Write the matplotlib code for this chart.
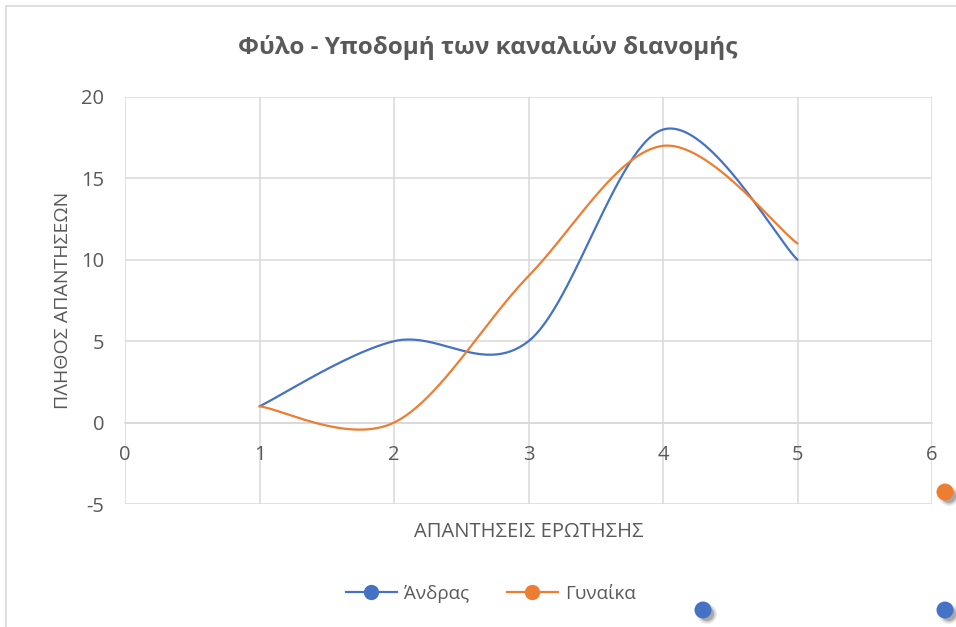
import numpy as np
import matplotlib.pyplot as plt
from matplotlib.lines import Line2D
from matplotlib.patches import Circle

plt.rcParams['font.family'] = ['Open Sans', 'DejaVu Sans']
plt.rcParams['axes.unicode_minus'] = False

answers = [1, 2, 3, 4, 5]
men = [1, 5, 5, 18, 10]
women = [1, 0, 9, 17, 11]
series = [('Άνδρας', men, '#4472C4'), ('Γυναίκα', women, '#ED7D31')]

title = 'Φύλο - Υποδομή των καναλιών διανομής'
xlabel = 'ΑΠΑΝΤΗΣΕΙΣ ΕΡΩΤΗΣΗΣ'
ylabel = 'ΠΛΗΘΟΣ ΑΠΑΝΤΗΣΕΩΝ'
text_gray = '#595959'
grid_gray = '#D9D9D9'


# smoothed line through the points (Catmull-Rom as cubic Bezier pieces)
def smooth(xs, ys, steps=60):
    pts = np.column_stack([xs, ys]).astype(float)
    n = len(pts)
    out = []
    t = np.linspace(0, 1, steps)[:, None]
    for i in range(n - 1):
        p0 = pts[max(i - 1, 0)]
        p1 = pts[i]
        p2 = pts[i + 1]
        p3 = pts[min(i + 2, n - 1)]
        c1 = p1 + (p2 - p0) / 6
        c2 = p2 - (p3 - p1) / 6
        seg = ((1 - t) ** 3 * p1 + 3 * (1 - t) ** 2 * t * c1
               + 3 * (1 - t) * t ** 2 * c2 + t ** 3 * p2)
        out.append(seg if i == 0 else seg[1:])
    out = np.vstack(out)
    return out[:, 0], out[:, 1]


fig = plt.figure(figsize=(9.56, 6.27), dpi=100)
ax = fig.add_axes([125 / 956, 1 - 504 / 627, 807 / 956, 407 / 627])

for name, vals, col in series:
    sx, sy = smooth(answers, vals)
    ax.plot(sx, sy, color=col, lw=1.6, solid_capstyle='round', zorder=3)

ax.set_xlim(0, 6)
ax.set_ylim(-5, 20)
ax.set_xticks(range(0, 7))
ax.set_yticks(range(-5, 21, 5))
ax.grid(True, color=grid_gray, lw=1.1)
ax.set_axisbelow(True)
for side in ['top', 'right', 'left']:
    ax.spines[side].set_visible(False)
ax.spines['bottom'].set_position(('data', 0))
ax.spines['bottom'].set_color(grid_gray)
ax.spines['bottom'].set_linewidth(1.1)
ax.tick_params(length=0, colors=text_gray, labelsize=14.5)
ax.tick_params(axis='x', pad=16)
ax.tick_params(axis='y', pad=15)

ax.set_xlabel(xlabel, color=text_gray, fontsize=14.5)
ax.xaxis.set_label_coords(0.5, -0.045)
ax.set_ylabel(ylabel, color=text_gray, fontsize=14)
ax.yaxis.set_label_coords(-0.066, 0.5)

fig.text(488 / 956, 1 - 48 / 627, title, ha='center', va='center',
         fontsize=17.5, fontweight='bold', color=text_gray)

handles = [Line2D([], [], color=col, lw=1.6, marker='o', markersize=10,
                  markerfacecolor=col, markeredgecolor=col)
           for _, _, col in series]
fig.legend(handles, [s[0] for s in series], loc='center',
           bbox_to_anchor=(491 / 956, 1 - 594 / 627), ncol=2, frameon=False,
           fontsize=13.5, labelcolor=text_gray, handlelength=2.7,
           columnspacing=2.0, handletextpad=0.4)

# chart frame, cut by the right and bottom edges
fig.add_artist(Line2D([6 / 956, 6 / 956], [0, 1 - 6 / 627], color=grid_gray,
                      lw=1.2, transform=fig.transFigure))
fig.add_artist(Line2D([6 / 956, 1], [1 - 6 / 627, 1 - 6 / 627], color=grid_gray,
                      lw=1.2, transform=fig.transFigure))

# selection handles on the frame
for cx, cy, col in [(945, 492, '#ED7D31'), (703, 610, '#4472C4'), (945, 610, '#4472C4')]:
    for k, a in enumerate([0.08, 0.12, 0.18]):
        fig.add_artist(Circle((cx + 4, 627 - cy - 4), 10 - 1.5 * k,
                              transform=None, color='black', alpha=a, lw=0))
    fig.add_artist(Circle((cx, 627 - cy), 8.5, transform=None, color=col, lw=0))

fig.savefig('out.png', dpi=100)
